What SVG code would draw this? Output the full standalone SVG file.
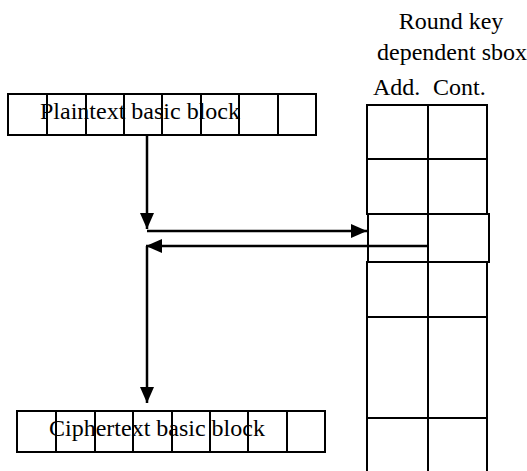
<svg xmlns="http://www.w3.org/2000/svg" width="527" height="471" viewBox="0 0 527 471">
  <style>
    .cell { fill: none; stroke: #000; stroke-width: 2; }
    .wire { fill: none; stroke: #000; stroke-width: 2.5; }
    .lbl { font-family: "Liberation Serif", "Times New Roman", serif; font-size: 24px; fill: #000; }
  </style>
  <defs>
    <marker id="head" viewBox="0 0 16 14" refX="16" refY="7" markerWidth="16" markerHeight="14" markerUnits="userSpaceOnUse" orient="auto">
      <path d="M0,0 L16,7 L0,14 Z" fill="#000"/>
    </marker>
  </defs>

  <rect width="527" height="471" fill="#fff"/>

  <!-- plaintext block: 8 cells -->
  <g id="plaintext">
    <rect class="cell" x="8" y="94" width="308" height="41"/>
    <path class="cell" d="M47,94V135M86,94V135M124,94V135M162,94V135M201,94V135M239,94V135M278,94V135"/>
    <text class="lbl" x="40" y="119">Plaintext basic block</text>
  </g>

  <!-- ciphertext block: 8 cells -->
  <g id="ciphertext">
    <rect class="cell" x="17" y="411" width="308" height="41"/>
    <path class="cell" d="M56,411V452M95,411V452M133,411V452M172,411V452M210,411V452M248,411V452M287,411V452"/>
    <text class="lbl" x="49" y="436">Ciphertext basic block</text>
  </g>

  <!-- round key dependent sbox table -->
  <g id="sbox">
    <text class="lbl" x="451" y="29" text-anchor="middle">Round key</text>
    <text class="lbl" x="452" y="60" text-anchor="middle">dependent sbox</text>
    <text class="lbl" x="373" y="95">Add.</text>
    <text class="lbl" x="433" y="95">Cont.</text>
    <rect class="cell" x="367" y="105" width="120" height="54"/>
    <rect class="cell" x="367" y="159" width="120" height="55"/>
    <rect class="cell" x="368" y="214" width="121" height="48"/>
    <rect class="cell" x="367" y="262" width="120" height="55"/>
    <rect class="cell" x="367" y="317" width="120" height="101"/>
    <path class="cell" d="M367,418V471M487,418V471M428,105V471"/>
  </g>

  <!-- connectors -->
  <g id="connectors">
    <path class="wire" d="M147,135V229" marker-end="url(#head)"/>
    <path class="wire" d="M147,231H367" marker-end="url(#head)"/>
    <path class="wire" d="M429,246H146" marker-end="url(#head)"/>
    <path class="wire" d="M147,246V403" marker-end="url(#head)"/>
  </g>
</svg>
